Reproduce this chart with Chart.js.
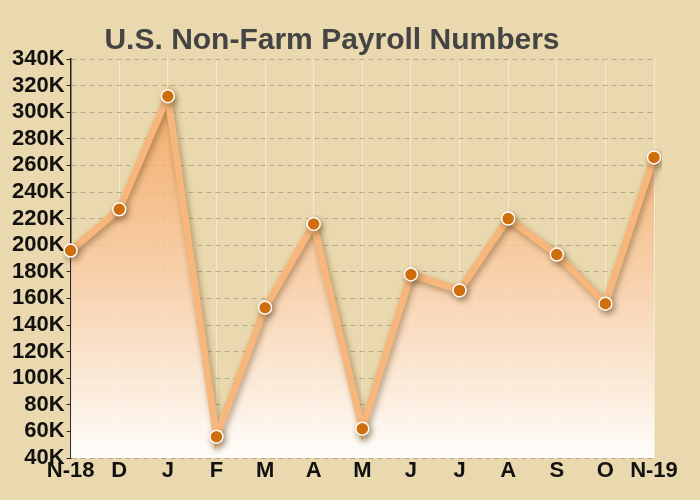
<!DOCTYPE html>
<html>
<head>
<meta charset="utf-8">
<script src="https://cdn.jsdelivr.net/npm/chart.js@4/dist/chart.umd.min.js"></script>
<style>
  html, body { margin: 0; padding: 0; background: #ead9ae; }
  #wrap { width: 700px; height: 500px; }
</style>
</head>
<body>
<div id="wrap"><canvas id="chart"></canvas></div>
<script>
const months = ['N-18', 'D', 'J', 'F', 'M', 'A', 'M', 'J', 'J', 'A', 'S', 'O', 'N-19'];
const payrolls = [196, 227, 312, 56, 153, 216, 62, 178, 166, 220, 193, 156, 266];
const yMin = 40, yMax = 340, yStep = 20;

// soft drop shadow under the line
const shadowPlugin = {
    id: 'lineShadow',
    beforeDatasetDraw(chart) {
        const ctx = chart.ctx;
        ctx.save();
        ctx.shadowColor = 'rgba(90,60,20,0.45)';
        ctx.shadowBlur = 6;
        ctx.shadowOffsetX = 2;
        ctx.shadowOffsetY = 3;
    },
    afterDatasetDraw(chart) {
        chart.ctx.restore();
    }
};

const tickFont = { family: 'Liberation Sans', size: 22, weight: 'bold', lineHeight: 1 };

new Chart(document.getElementById('chart'), {
    type: 'line',
    data: {
        labels: months,
        datasets: [{
            data: payrolls,
            borderColor: '#f7b77c',
            borderWidth: 7,
            tension: 0,
            fill: 'start',
            backgroundColor: (c) => {
                const area = c.chart.chartArea;
                if (!area) return 'rgba(245,170,100,0.4)';
                const g = c.chart.ctx.createLinearGradient(0, area.top, 0, area.bottom);
                g.addColorStop(0, 'rgba(243,150,70,0.75)');
                g.addColorStop(1, 'rgba(255,255,255,0.95)');
                return g;
            },
            pointRadius: 6.5,
            pointBackgroundColor: '#d9730d',
            pointBorderColor: '#ffffff',
            pointBorderWidth: 1.5
        }]
    },
    options: {
        responsive: true,
        maintainAspectRatio: false,
        animation: false,
        layout: { padding: { left: 10, right: 46, top: 0, bottom: 16 } },
        plugins: {
            legend: { display: false },
            tooltip: { enabled: false },
            title: {
                display: true,
                text: 'U.S. Non-Farm Payroll Numbers',
                color: '#444',
                font: { family: 'Liberation Sans', size: 30, weight: 'bold' },
                padding: { top: 23, bottom: 0 }
            }
        },
        scales: {
            x: {
                offset: false,
                grid: { color: 'rgba(255,255,255,0.45)', drawTicks: false },
                border: { display: false },
                ticks: { color: '#111', padding: 2, maxRotation: 0, autoSkip: false, font: tickFont }
            },
            y: {
                min: yMin,
                max: yMax,
                grid: { color: 'rgba(120,110,90,0.45)', tickLength: 4, tickColor: '#222' },
                border: { display: true, color: '#222', width: 1.5, dash: [5, 4] },
                ticks: {
                    stepSize: yStep,
                    autoSkip: false,
                    padding: 2,
                    color: '#111',
                    font: tickFont,
                    callback: (v) => v + 'K'
                }
            }
        }
    },
    plugins: [shadowPlugin]
});
</script>
</body>
</html>
